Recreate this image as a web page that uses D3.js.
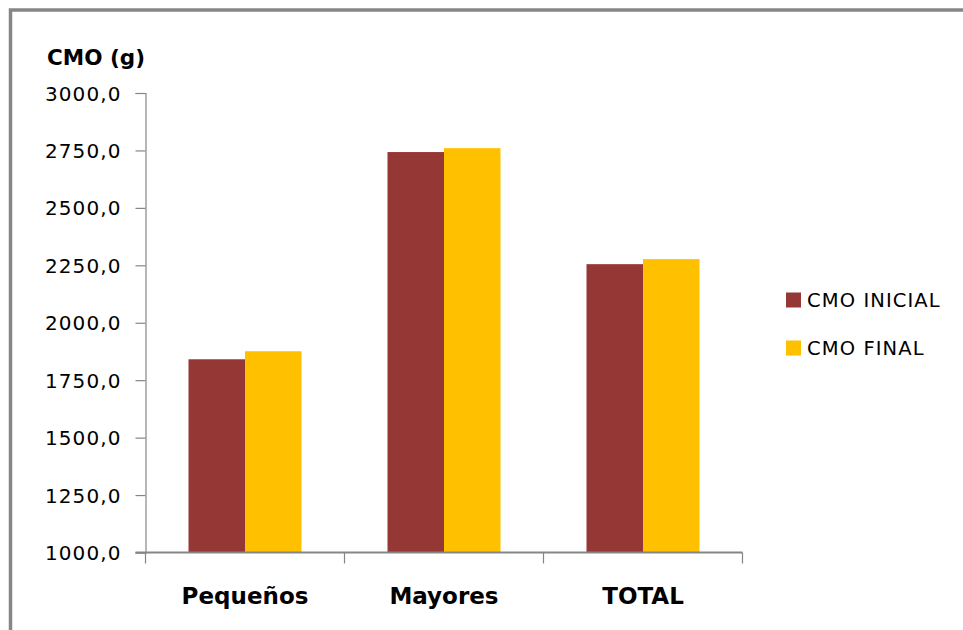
<!DOCTYPE html>
<html>
<head>
<meta charset="utf-8">
<script src="https://cdn.jsdelivr.net/npm/d3@7"></script>
<style>
  html, body { margin: 0; padding: 0; background: #fff; }
  svg { display: block; }
</style>
</head>
<body>
<svg id="chart" width="963" height="630"></svg>
<script>
const categories = ["Pequeños", "Mayores", "TOTAL"];
const seriesNames = ["CMO INICIAL", "CMO FINAL"];
const cmoInicial = [1841, 2743, 2255];
const cmoFinal = [1876, 2760, 2277];
const yTicks = [1000, 1250, 1500, 1750, 2000, 2250, 2500, 2750, 3000];
const colors = ["#953735", "#FFC000"];

const svg = d3.select("#chart");
const W = 963, H = 630;

// outer frame
svg.append("rect").attr("x", 10.5).attr("y", 10).attr("width", W + 20).attr("height", H + 20)
  .attr("fill", "#fff").attr("stroke", "#868686").attr("stroke-width", 3.5);

const x0 = 145.5, x1 = 742.5, yTop = 93, yBot = 552.5;

const x = d3.scaleBand().domain(categories).range([x0, x1]).paddingInner(0).paddingOuter(0);
const y = d3.scaleLinear().domain([1000, 3000]).range([yBot, yTop]);
const groupW = 113;
const xs = d3.scaleBand().domain(seriesNames).range([0, groupW]);

const data = categories.map((c, i) => ({ cat: c, vals: [cmoInicial[i], cmoFinal[i]] }));

// bars
const g = svg.append("g");
data.forEach(d => {
  const gx = x(d.cat) + (x.bandwidth() - groupW) / 2;
  d.vals.forEach((v, j) => {
    g.append("rect")
      .attr("x", gx + xs(seriesNames[j]))
      .attr("y", y(v))
      .attr("width", xs.bandwidth())
      .attr("height", y(1000) - y(v))
      .attr("fill", colors[j]);
  });
});

// y axis
const yAxis = d3.axisLeft(y).tickValues(yTicks).tickSize(10).tickPadding(14)
  .tickFormat(d => d3.format(".1f")(d).replace(".", ","));
const ya = svg.append("g").attr("transform", `translate(${x0},0)`).call(yAxis);
ya.select(".domain").attr("stroke", "#868686").attr("stroke-width", 1.2);
ya.selectAll(".tick line").attr("stroke", "#868686").attr("stroke-width", 1.2);
ya.selectAll(".tick text").attr("font-family", "DejaVu Sans").attr("font-size", 20)
  .attr("letter-spacing", 1.1).attr("fill", "#000").attr("dy", "0.35em");

// x axis
const xa = svg.append("g").attr("transform", `translate(0,${yBot})`);
xa.append("line").attr("x1", x0 - 10).attr("x2", x1).attr("y1", 0).attr("y2", 0)
  .attr("stroke", "#868686").attr("stroke-width", 2);
const bounds = [x0].concat(categories.map(c => x(c) + x.bandwidth()));
bounds.forEach(b => {
  xa.append("line").attr("x1", b).attr("x2", b).attr("y1", 0).attr("y2", 11)
    .attr("stroke", "#868686").attr("stroke-width", 1.2);
});
categories.forEach(c => {
  xa.append("text").attr("x", x(c) + x.bandwidth() / 2).attr("y", 51)
    .attr("text-anchor", "middle").attr("font-family", "DejaVu Sans").attr("font-weight", "bold")
    .attr("font-size", 23).attr("fill", "#000").text(c);
});

// title
svg.append("text").attr("x", 47).attr("y", 65).attr("font-family", "DejaVu Sans")
  .attr("font-weight", "bold").attr("font-size", 21.5).attr("fill", "#000").text("CMO (g)");

// legend
const legY = [300, 348];
seriesNames.forEach((s, i) => {
  svg.append("rect").attr("x", 786).attr("y", legY[i] - 7.5).attr("width", 15).attr("height", 15)
    .attr("fill", colors[i]);
  svg.append("text").attr("x", 807).attr("y", legY[i] + 7).attr("font-family", "DejaVu Sans")
    .attr("font-size", 19.5).attr("letter-spacing", 1.1).attr("fill", "#000").text(s);
});
</script>
</body>
</html>
